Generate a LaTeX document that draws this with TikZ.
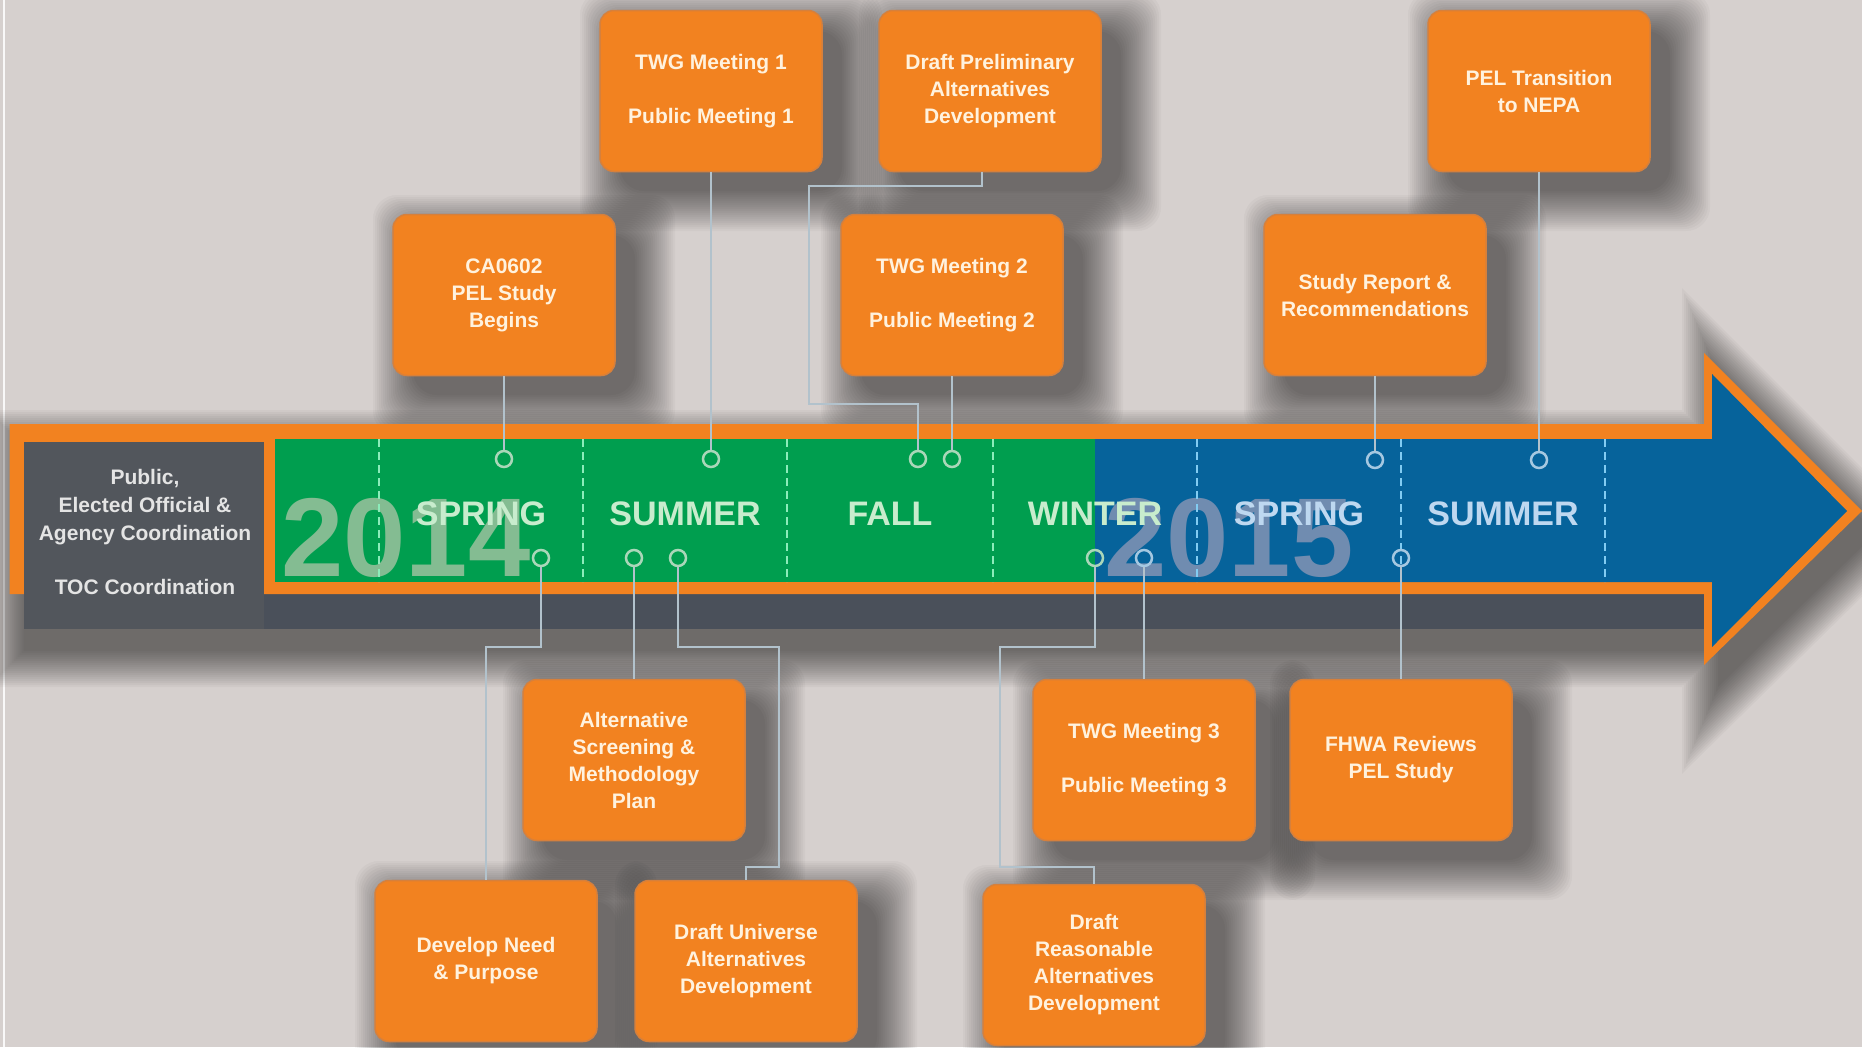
\documentclass[tikz,border=0pt]{standalone}
\usepackage{fontspec}
\setmainfont{Liberation Sans}
\definecolor{bg}{RGB}{214,208,206}
\definecolor{orng}{RGB}{242,130,32}
\definecolor{orngline}{RGB}{214,128,60}
\definecolor{grn}{RGB}{0,158,79}
\definecolor{blu}{RGB}{6,99,155}
\definecolor{slate}{RGB}{82,86,92}
\definecolor{band}{RGB}{74,80,90}
\definecolor{cream}{RGB}{255,242,222}
\definecolor{conncol}{RGB}{178,194,204}
\definecolor{pingrn}{RGB}{170,215,185}
\definecolor{pinblu}{RGB}{165,200,225}
\definecolor{dashgrn}{RGB}{140,236,186}
\definecolor{dashblu}{RGB}{130,204,242}
\definecolor{seagrn}{RGB}{200,236,205}
\definecolor{seablu}{RGB}{190,216,240}
\definecolor{yeargrn}{RGB}{132,188,146}
\definecolor{yearblu}{RGB}{112,140,176}
\definecolor{lefttxt}{RGB}{228,228,228}
\newcommand\softshade[4]{\foreach \s in {0,2,...,40}{\fill[black,opacity=0.028,rounded corners=24pt] (#1-\s,#2-\s) rectangle (#3+\s,#4+\s);}}
\newcommand\boxshade[2]{\softshade{#1-111+20}{#2-80+20}{#1+111+20}{#2+80+20}}
\begin{document}
\begin{tikzpicture}[x=1pt,y=-1pt,
  evbox/.style={rectangle, rounded corners=14pt, fill=orng, draw=orngline, line width=1.5pt, minimum width=222pt, minimum height=161pt, inner sep=0pt, align=center, text=cream, font=\bfseries\fontsize{21}{27}\selectfont},
  pinmark/.style={circle, draw=#1, line width=2.5pt, minimum size=16pt, inner sep=0pt},
  conn/.style={draw=conncol, line width=2pt},
  season/.style={font=\bfseries\fontsize{34}{34}\selectfont, anchor=base, inner sep=0pt},
  yearlbl/.style={font=\bfseries\fontsize{112}{112}\selectfont, anchor=base, inner sep=0pt},
  dashline/.style={line width=2.4pt, dash pattern=on 8pt off 5pt}]

\fill[bg] (0,0) rectangle (1862,1047);
\useasboundingbox (0,0) rectangle (1862,1047);
\draw[white!85!bg, line width=2.5pt] (4,0) -- (4,1047);

% arrow shadow
\foreach \s in {0,2,...,36} {
 \fill[black, opacity=0.03, shift={(14,22)}] (9.5-\s,424-\s) -- (1704-\s,424-\s) -- (1704-\s,353-2.41*\s) -- (1862+1.41*\s,511) -- (1704-\s,665+2.41*\s) -- (1704-\s,629+\s) -- (9.5-\s,629+\s) -- cycle;
}
% box shadows
\boxshade{711}{91}
\boxshade{990}{91}
\boxshade{1539}{91}
\boxshade{504}{295}
\boxshade{952}{295}
\boxshade{1375}{295}
\boxshade{634}{760}
\boxshade{1144}{760}
\boxshade{1401}{760}
\boxshade{486}{961}
\boxshade{746}{961}
\boxshade{1094}{965}

% arrow
\fill[band] (24,594) rectangle (1704,629);
\fill[orng] (9.5,424) -- (1704,424) -- (1704,353) -- (1862,511) -- (1704,665) -- (1704,594) -- (9.5,594) -- cycle;
\fill[grn] (275,439) rectangle (1095,582);
\fill[blu] (1095,439) -- (1712,439) -- (1712,374) -- (1847,511) -- (1712,647) -- (1712,582) -- (1095,582) -- cycle;
\fill[slate] (24,442) rectangle (264,629);

\node[yearlbl, text=yeargrn] (y14) at (406,576) {2014};
\node[yearlbl, text=yearblu] (y15) at (1229,576) {2015};

\foreach \x in {379,583,787,993} \draw[dashline, dashgrn] (\x,439) -- (\x,582);
\foreach \x in {1197,1401,1605} \draw[dashline, dashblu] (\x,439) -- (\x,582);

\node[season, text=seagrn] (s1) at (481,525) {SPRING};
\node[season, text=seagrn] (s2) at (685,525) {SUMMER};
\node[season, text=seagrn] (s3) at (890,525) {FALL};
\node[season, text=seagrn] (s4) at (1095,525) {WINTER};
\node[season, text=seablu] (s5) at (1299,525) {SPRING};
\node[season, text=seablu] (s6) at (1503,525) {SUMMER};

\node[text=lefttxt, align=center, font=\bfseries\fontsize{21}{28}\selectfont] (coord) at (145,532) {Public,\\Elected Official \&\\Agency Coordination\\[26pt]TOC Coordination};

% pins
\node[pinmark=pingrn] (pca) at (504,459) {};
\node[pinmark=pingrn] (ptwg1) at (711,459) {};
\node[pinmark=pingrn] (pprelim) at (918,459) {};
\node[pinmark=pingrn] (ptwg2) at (952,459) {};
\node[pinmark=pinblu] (pstudy) at (1375,460) {};
\node[pinmark=pinblu] (ppel) at (1539,460) {};
\node[pinmark=pingrn] (pneed) at (541,558) {};
\node[pinmark=pingrn] (palt) at (634,558) {};
\node[pinmark=pingrn] (puni) at (678,558) {};
\node[pinmark=pingrn] (prea) at (1095,558) {};
\node[pinmark=pinblu] (ptwg3) at (1144,558) {};
\node[pinmark=pinblu] (pfhwa) at (1401,558) {};

% boxes
\node[evbox] (twg1) at (711,91) {TWG Meeting 1\\[27pt]Public Meeting 1};
\node[evbox] (prelim) at (990,91) {Draft Preliminary\\Alternatives\\Development};
\node[evbox] (pelnepa) at (1539,91) {PEL Transition\\to NEPA};
\node[evbox] (ca0602) at (504,295) {CA0602\\PEL Study\\Begins};
\node[evbox] (twg2) at (952,295) {TWG Meeting 2\\[27pt]Public Meeting 2};
\node[evbox] (study) at (1375,295) {Study Report \&\\Recommendations};
\node[evbox] (altscreen) at (634,760) {Alternative\\Screening \&\\Methodology\\Plan};
\node[evbox] (twg3) at (1144,760) {TWG Meeting 3\\[27pt]Public Meeting 3};
\node[evbox] (fhwa) at (1401,760) {FHWA Reviews\\PEL Study};
\node[evbox] (need) at (486,961) {Develop Need\\\& Purpose};
\node[evbox] (universe) at (746,961) {Draft Universe\\Alternatives\\Development};
\node[evbox] (reasonable) at (1094,965) {Draft\\Reasonable\\Alternatives\\Development};

% connectors
\draw[conn] (ca0602.south) -- (pca.north);
\draw[conn] (twg1.south) -- (ptwg1.north);
\draw[conn] ([xshift=-8pt]prelim.south) -- ++(0,14) -| (809,404) -| (pprelim.north);
\draw[conn] (twg2.south) -- (ptwg2.north);
\draw[conn] (study.south) -- (pstudy.north);
\draw[conn] (pelnepa.south) -- (ppel.north);
\draw[conn] (pneed.south) |- (486,647) -- (need.north);
\draw[conn] (palt.south) -- (altscreen.north);
\draw[conn] (puni.south) |- (779,647) |- (746,867) -- (universe.north);
\draw[conn] (prea.south) |- (1000,647) |- (1094,867) -- (reasonable.north);
\draw[conn] (ptwg3.south) -- (twg3.north);
\draw[conn] (pfhwa.south) -- (fhwa.north);
\end{tikzpicture}
\end{document}
